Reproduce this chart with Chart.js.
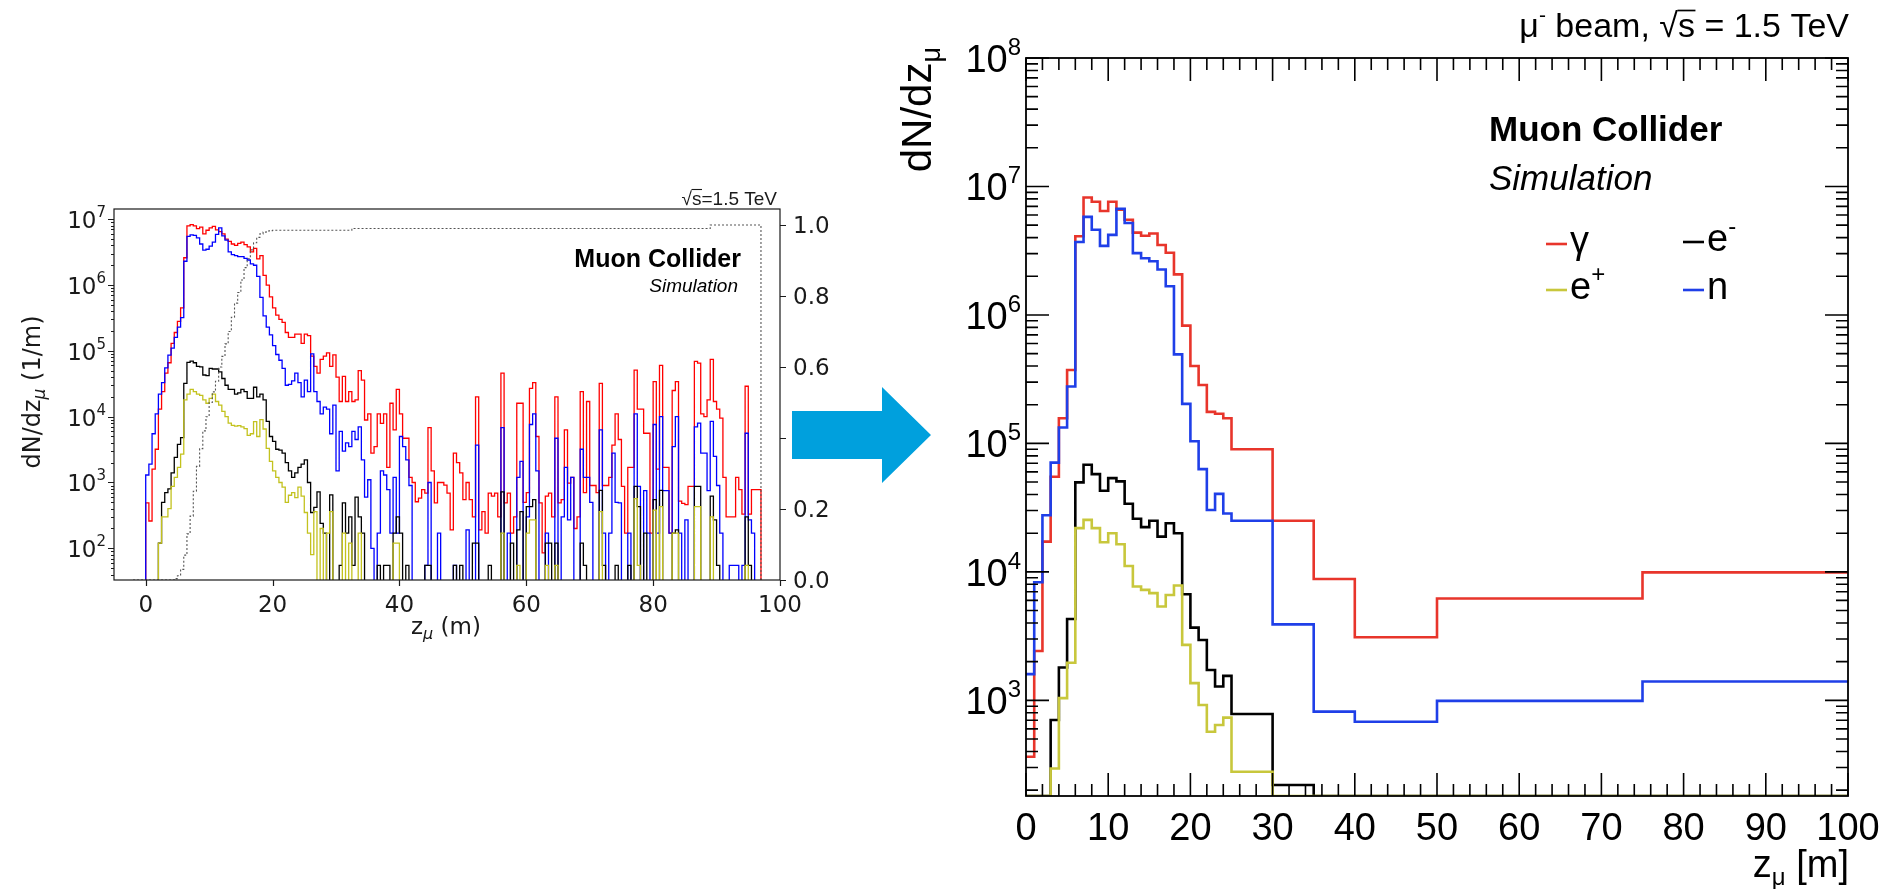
<!DOCTYPE html>
<html>
<head>
<meta charset="utf-8">
<title>Muon collider beam-induced background: dN/dz</title>
<script src="https://cdn.jsdelivr.net/npm/chart.js@4.4.1/dist/chart.umd.min.js"></script>
<style>
  html, body { margin: 0; padding: 0; background: #ffffff; }
  body { width: 1895px; height: 889px; position: relative; overflow: hidden; }
  canvas, svg { position: absolute; left: 0; top: 0; }
</style>
</head>
<body>
<canvas id="leftChart" width="1895" height="889"></canvas>
<svg width="1895" height="889" viewBox="0 0 1895 889">
  <polygon points="792,411 882,411 882,387 931,435 882,483 882,459 792,459" fill="#00a0dd"/>
</svg>
<canvas id="rightChart" width="1895" height="889"></canvas>
<script>
// ---------------------------------------------------------------------------
// Fine-binned histograms (0.5 m bins starting at z = 0 m), dN/dz in 1/m
// ---------------------------------------------------------------------------
const FINE_BIN_START = 0;
const FINE_BIN_WIDTH = 0.5;

const finePhoton = [
  490, 260, 1600, 3200, 1.3e4, 2.4e4, 4.6e4, 6.6e4, 1.3e5, 1.9e5,
  2.8e5, 4.5e5, 2.6e6, 7.9e6, 8.3e6, 7.9e6, 7.2e6, 7.6e6, 6.0e6, 6.8e6,
  7.4e6, 7.8e6, 6.9e6, 6.5e6, 6.0e6, 5.0e6, 4.6e6, 4.2e6, 4.0e6, 4.3e6,
  4.5e6, 4.1e6, 3.8e6, 3.2e6, 3.6e6, 2.5e6, 2.8e6, 1.4e6, 1.0e6, 6.6e5,
  4.5e5, 3.5e5, 3.0e5, 2.7e5, 1.9e5, 1.6e5, 1.6e5, 1.8e5, 1.8e5, 1.3e5,
  1.8e5, 1.7e5, 8.3e4, 5.8e4, 4.6e4, 7.4e4, 8.3e4, 9.3e4, 5.8e4, 8.7e4,
  4.0e4, 1.7e4, 4.1e4, 1.7e4, 2.4e4, 1.7e4, 1.8e4, 5.0e4, 3.6e4, 8.9e3,
  1.1e4, 2.8e3, 3.5e3, 1.1e4, 7.9e3, 1.1e4, 1.7e3, 1.6e4, 6.3e3, 2.6e4,
  1.1e4, 4.7e3, 4.7e3, 1.2e3, 1.0e3, 510, 580, 780, 690, 6.8e3,
  1.5e3, 490, 1.0e3, 1.0e3, 910, 690, 190, 2.8e3, 2.0e3, 1.4e3,
  550, 1.0e3, 550, 300, 2.0e4, 190, 360, 170, 690, 620,
  690, 300, 4.6e4, 490, 690, 170, 300, 1.6e4, 1.6e4, 500,
  700, 2.7e4, 3.3e4, 5.0e3, 490, 85, 620, 690, 300, 2.0e4,
  490, 550, 6.3e3, 980, 1.2e3, 200, 300, 2.4e4, 700, 1.7e4,
  900, 900, 700, 3.2e4, 900, 900, 1.2e3, 3.7e3, 1.1e4, 4.5e3,
  870, 170, 1.7e3, 1.7e3, 5.1e4, 1.3e4, 1.3e4, 5.6e3, 5.6e3, 170,
  3.4e4, 1.6e3, 6.0e4, 1.7e3, 1.7e3, 170, 2.5e4, 3.4e4, 520, 480,
  460, 870, 870, 6.9e4, 6.5e4, 1.1e4, 1.0e4, 1.8e4, 7.4e4, 1.7e4,
  1.3e4, 9.5e3, 1.2e3, 300, 300, 300, 1.2e3, 780, 330, 2.9e4,
  330, 780, 780, 780
];

const fineNeutron = [
  1.3e3, 1.9e3, 5.5e3, 1.1e4, 2.2e4, 3.3e4, 5.5e4, 8.6e4, 1.1e5, 1.6e5,
  2.3e5, 3.2e5, 2.3e6, 5.5e6, 5.8e6, 5.7e6, 5.2e6, 4.2e6, 3.4e6, 3.5e6,
  3.9e6, 4.5e6, 5.9e6, 7.4e6, 5.6e6, 4.8e6, 3.2e6, 2.9e6, 2.8e6, 2.7e6,
  2.7e6, 2.55e6, 2.4e6, 2.1e6, 2.0e6, 1.35e6, 6.5e5, 3.4e5, 2.3e5, 1.75e5,
  1.2e5, 8.8e4, 7.2e4, 5.4e4, 3.0e4, 3.1e4, 3.5e4, 4.6e4, 3.3e4, 2.0e4,
  3.6e4, 2.4e4, 9.0e4, 2.4e4, 1.7e4, 1.1e4, 1.4e4, 1.3e4, 5.5e3, 1.5e4,
  1.5e3, 6.0e3, 3.0e3, 4.0e3, 3.5e3, 6.0e3, 4.5e3, 7.0e3, 2.2e3, 600,
  1.1e3, 100, 0, 170, 1.5e3, 1.3e3, 780, 170, 1.2e3, 170,
  5.0e3, 3.5e3, 2.2e3, 900, 0, 0, 0, 0, 55, 1.0e3,
  0, 0, 170, 0, 0, 0, 0, 55, 0, 0,
  0, 190, 0, 0, 3.7e3, 0, 0, 0, 0, 0,
  0, 0, 6.8e3, 0, 170, 0, 0, 1.2e3, 2.1e3, 0,
  300, 7.6e3, 1.1e4, 1.5e3, 0, 0, 170, 0, 0, 4.7e3,
  0, 300, 1.7e3, 270, 1.2e3, 0, 0, 3.2e3, 1.2e3, 1.2e3,
  500, 0, 0, 6.3e3, 170, 0, 170, 2.8e3, 500, 490,
  0, 0, 170, 0, 1.1e4, 870, 0, 750, 170, 0,
  7.6e3, 170, 1.0e4, 750, 750, 170, 3.5e3, 1.0e4, 170, 0,
  270, 0, 0, 7.0e3, 8.0e3, 2.8e3, 2.8e3, 750, 8.5e3, 2.5e3,
  900, 170, 0, 0, 55, 55, 55, 0, 55, 5.6e3,
  270, 170, 0, 0
];

const fineElectron = [
  0, 0, 0, 0, 120, 500, 700, 800, 1.4e3, 2.4e3,
  3.8e3, 4.8e3, 3.2e4, 6.7e4, 7.0e4, 6.6e4, 5.8e4, 5.7e4, 4.3e4, 4.2e4,
  5.4e4, 5.3e4, 5.3e4, 4.8e4, 3.8e4, 3.0e4, 2.6e4, 2.6e4, 2.2e4, 2.3e4,
  2.6e4, 2.4e4, 1.9e4, 1.9e4, 2.8e4, 2.0e4, 2.2e4, 1.8e4, 8.5e3, 5.0e3,
  4.2e3, 3.2e3, 3.1e3, 2.8e3, 2.0e3, 1.5e3, 1.2e3, 1.4e3, 1.7e3, 1.9e3,
  2.2e3, 1.0e3, 350, 420, 720, 240, 170, 0, 650, 0,
  0, 55, 490, 170, 300, 55, 600, 300, 170, 0,
  0, 0, 0, 55, 0, 55, 55, 0, 170, 300,
  170, 0, 55, 0, 0, 0, 0, 0, 55, 55,
  0, 0, 0, 0, 0, 0, 0, 55, 0, 55,
  0, 0, 0, 120, 120, 0, 0, 0, 55, 0,
  0, 0, 720, 0, 0, 120, 0, 190, 360, 0,
  430, 430, 550, 0, 0, 0, 120, 120, 0, 120,
  0, 0, 0, 0, 0, 0, 0, 120, 55, 0,
  0, 0, 0, 760, 55, 0, 0, 0, 55, 0,
  0, 0, 55, 0, 870, 430, 0, 170, 0, 0,
  550, 0, 760, 0, 0, 0, 170, 190, 0, 0,
  0, 0, 0, 870, 870, 0, 0, 0, 620, 270,
  55, 0, 0, 0, 0, 0, 0, 0, 0, 300,
  55, 0, 0, 0
];

const finePositron = [
  0, 0, 0, 0, 120, 300, 300, 400, 870, 1.2e3,
  1.7e3, 2.7e3, 1.8e4, 2.2e4, 2.6e4, 2.4e4, 2.2e4, 2.1e4, 1.8e4, 1.6e4,
  1.9e4, 2.2e4, 1.7e4, 1.5e4, 1.2e4, 1.0e4, 8.0e3, 7.4e3, 7.2e3, 7.3e3,
  7.0e3, 6.6e3, 5.2e3, 5.5e3, 8.4e3, 5.0e3, 9.0e3, 6.5e3, 3.3e3, 2.1e3,
  1.5e3, 1.2e3, 1.0e3, 850, 500, 640, 700, 590, 850, 620,
  350, 170, 80, 360, 0, 200, 0, 170, 360, 0,
  0, 0, 170, 0, 120, 0, 0, 170, 0, 0,
  0, 0, 0, 0, 0, 0, 0, 0, 120, 120,
  0, 0, 0, 0, 0, 0, 0, 0, 0, 0,
  0, 0, 0, 0, 0, 0, 0, 0, 0, 0,
  0, 0, 0, 0, 0, 0, 0, 0, 0, 0,
  0, 0, 170, 0, 0, 0, 0, 55, 0, 0,
  170, 270, 270, 0, 0, 0, 55, 0, 0, 55,
  0, 0, 0, 0, 0, 0, 0, 0, 0, 0,
  0, 0, 0, 360, 0, 0, 0, 0, 0, 0,
  0, 0, 0, 0, 570, 55, 0, 0, 0, 0,
  380, 0, 430, 0, 0, 0, 170, 170, 0, 0,
  0, 0, 0, 430, 430, 0, 0, 0, 300, 0,
  0, 0, 0, 0, 0, 0, 0, 0, 0, 55,
  0, 0, 0, 0
];

// Cumulative fraction (right-hand axis), 0.5 m bins starting at z = -2 m
const CUM_BIN_START = -2;
const fineCumulative = [
  0, 0, 0, 0, 0, 0, 0, 0, 0, 0,
  0, 0, 0, 0.004, 0.012, 0.03, 0.07, 0.13, 0.18, 0.25,
  0.32, 0.37, 0.42, 0.46, 0.5, 0.53, 0.56, 0.6, 0.63, 0.665,
  0.7, 0.74, 0.78, 0.81, 0.845, 0.88, 0.905, 0.93, 0.95, 0.965,
  0.975, 0.98, 0.983, 0.984, 0.985, 0.985, 0.985, 0.985, 0.985, 0.985,
  0.985, 0.985, 0.985, 0.985, 0.985, 0.985, 0.985, 0.985, 0.985, 0.985,
  0.985, 0.985, 0.985, 0.985, 0.985, 0.985, 0.985, 0.985, 0.985, 0.99,
  0.99, 0.99, 0.99, 0.99, 0.99, 0.99, 0.99, 0.99, 0.99, 0.99,
  0.99, 0.99, 0.99, 0.99, 0.99, 0.99, 0.99, 0.99, 0.99, 0.99,
  0.99, 0.99, 0.99, 0.99, 0.99, 0.99, 0.99, 0.99, 0.99, 0.99,
  0.99, 0.99, 0.99, 0.99, 0.99, 0.99, 0.99, 0.99, 0.99, 0.99,
  0.99, 0.99, 0.99, 0.99, 0.99, 0.99, 0.99, 0.99, 0.99, 0.99,
  0.99, 0.99, 0.99, 0.99, 0.99, 0.99, 0.99, 0.99, 0.99, 0.99,
  0.99, 0.99, 0.99, 0.99, 0.99, 0.99, 0.99, 0.99, 0.99, 0.99,
  0.99, 0.99, 0.99, 0.99, 0.99, 0.99, 0.99, 0.99, 0.99, 0.99,
  0.99, 0.99, 0.99, 0.99, 0.99, 0.99, 0.99, 0.99, 0.99, 0.99,
  0.99, 0.99, 0.99, 0.99, 0.99, 0.99, 0.99, 0.99, 0.99, 0.99,
  0.99, 0.99, 0.99, 0.99, 0.99, 0.99, 0.99, 0.99, 0.99, 0.99,
  0.99, 0.99, 1, 1, 1, 1, 1, 1, 1, 1,
  1, 1, 1, 1, 1, 1, 1, 1
];

const fineXTicks = [0, 20, 40, 60, 80, 100];
const fineYTickExponents = [2, 3, 4, 5, 6, 7];
const fractionTicks = [0.0, 0.2, 0.4, 0.6, 0.8, 1.0];

// ---------------------------------------------------------------------------
// Coarse-binned histograms (variable bins), dN/dz
// ---------------------------------------------------------------------------
const coarseEdges = [0, 1, 2, 3, 4, 5, 6, 7, 8, 9, 10, 11, 12, 13, 14, 15, 16, 17, 18, 19,
  20, 21, 22, 23, 24, 25, 30, 35, 40, 50, 75, 100];

const coarsePhoton = [364, 2420, 17200, 55000, 157000, 373000, 4.1e6, 8.2e6, 7.6e6, 6.45e6,
  7.6e6, 6.6e6, 5.5e6, 4.37e6, 4.13e6, 4.3e6, 3.5e6, 3.05e6, 2.07e6, 8.25e5,
  4.0e5, 2.85e5, 1.76e5, 1.7e5, 1.57e5, 9.0e4, 2.5e4, 8.8e3, 3.1e3, 6.2e3, 9.9e3];
const coarseNeutron = [1600, 8300, 27600, 70800, 1.33e5, 2.77e5, 3.7e6, 5.8e6, 4.6e6, 3.45e6,
  4.2e6, 6.7e6, 5.2e6, 3.03e6, 2.76e6, 2.62e6, 2.26e6, 1.67e6, 4.93e5, 2.03e5,
  1.04e5, 6.3e4, 3.03e4, 4.05e4, 2.85e4, 2.5e4, 3.9e3, 816, 682, 990, 1400];
const coarseElectron = [0, 0, 0, 703, 1800, 4300, 4.97e4, 6.82e4, 5.77e4, 4.28e4,
  5.37e4, 5.06e4, 3.39e4, 2.59e4, 2.23e4, 2.5e4, 1.88e4, 2.39e4, 2.0e4, 6700,
  3680, 2950, 1720, 1280, 1550, 783, 219, 0, 0, 0, 0];
const coarsePositron = [0, 0, 0, 295, 1040, 1960, 21900, 25400, 21900, 17000,
  20000, 16400, 11100, 7700, 7240, 6830, 5370, 6610, 7830, 2700,
  1360, 920, 570, 643, 733, 278, 0, 0, 0, 0, 0];

const coarseXTicks = [0, 10, 20, 30, 40, 50, 60, 70, 80, 90, 100];
const coarseYTickExponents = [3, 4, 5, 6, 7, 8];

// ---------------------------------------------------------------------------
// Helpers
// ---------------------------------------------------------------------------
const FINE_Y_MIN = 33, FINE_Y_MAX = 1.43e7, FINE_FLOOR = 1;   // empty bins fall below the frame
const COARSE_Y_MIN = 180, COARSE_Y_MAX = 1e8;                 // empty bins sit on the frame

function fineEdge(start, i) { return start + i * FINE_BIN_WIDTH; }

// Step outline of a histogram in the style of a closed "step" histogram
function fineOutline(values, start, floor) {
  const pts = [{ x: fineEdge(start, 0), y: floor }];
  values.forEach((v, i) => pts.push({ x: fineEdge(start, i), y: v > 0 ? v : floor }));
  pts.push({ x: fineEdge(start, values.length), y: floor });
  return pts;
}

// Step outline with explicit bin edges, empty bins drawn at the axis minimum
function coarseOutline(edges, values) {
  const pts = values.map((v, i) => ({ x: edges[i], y: v > 0 ? v : COARSE_Y_MIN }));
  const last = values[values.length - 1];
  pts.push({ x: edges[values.length], y: last > 0 ? last : COARSE_Y_MIN });
  return pts;
}

// Text runs with sub/superscripts: parts = [[text, font, dy], ...]
function richText(ctx, x, y, parts, align) {
  let w = 0;
  for (const p of parts) { ctx.font = p[1]; w += ctx.measureText(p[0]).width; }
  let cx = align === 'right' ? x - w : (align === 'center' ? x - w / 2 : x);
  ctx.textAlign = 'left';
  for (const p of parts) {
    ctx.font = p[1];
    ctx.fillText(p[0], cx, y + (p[2] || 0));
    cx += ctx.measureText(p[0]).width;
  }
  return w;
}

// "√s" with the bar of the root sign running over the s
function rootS(ctx, x, y, font, barY, lw) {
  ctx.font = font;
  const wr = ctx.measureText('\u221A').width;
  ctx.fillText('\u221A', x, y);
  const ws = ctx.measureText('s').width;
  ctx.fillText('s', x + wr, y);
  ctx.beginPath();
  ctx.lineWidth = lw;
  ctx.moveTo(x + wr - 0.5, barY);
  ctx.lineTo(x + wr + ws + 0.5, barY);
  ctx.stroke();
  return wr + ws;
}

// ---------------------------------------------------------------------------
// Fine-binned panel (matplotlib look)
// ---------------------------------------------------------------------------
const FINE_FONT = '"DejaVu Sans", sans-serif';
const FT = '23px ' + FINE_FONT;
const fineFrame = {
  id: 'fineFrame',
  afterDatasetsDraw(chart) {
    const { ctx, chartArea: a, scales } = chart;
    const x = scales.x, y = scales.y, y2 = scales.y2;
    ctx.save();
    ctx.strokeStyle = '#1a1a1a';
    ctx.fillStyle = '#1a1a1a';
    ctx.lineWidth = 1.2;
    ctx.strokeRect(a.left, a.top, a.right - a.left, a.bottom - a.top);

    ctx.beginPath();
    fineXTicks.forEach(v => {
      const px = Math.round(x.getPixelForValue(v)) + 0.5;
      ctx.moveTo(px, a.bottom); ctx.lineTo(px, a.bottom + 6);
    });
    fineYTickExponents.forEach(e => {
      const py = Math.round(y.getPixelForValue(Math.pow(10, e))) + 0.5;
      ctx.moveTo(a.left, py); ctx.lineTo(a.left - 6, py);
    });
    for (let e = 1; e <= 7; e++) {
      for (let m = 2; m <= 9; m++) {
        const v = m * Math.pow(10, e);
        if (v < FINE_Y_MIN || v > FINE_Y_MAX) continue;
        const py = Math.round(y.getPixelForValue(v)) + 0.5;
        ctx.moveTo(a.left, py); ctx.lineTo(a.left - 3, py);
      }
    }
    fractionTicks.forEach(v => {
      const py = Math.round(y2.getPixelForValue(v)) + 0.5;
      ctx.moveTo(a.right, py); ctx.lineTo(a.right + 6, py);
    });
    ctx.stroke();

    ctx.textBaseline = 'alphabetic';
    ctx.font = FT;
    ctx.textAlign = 'center';
    fineXTicks.forEach(v => ctx.fillText(String(v), x.getPixelForValue(v), 612));

    fineYTickExponents.forEach(e => {
      const py = y.getPixelForValue(Math.pow(10, e));
      richText(ctx, 106, py + 9, [['10', FT, 0], [String(e), '15px ' + FINE_FONT, -11]], 'right');
    });

    ctx.textAlign = 'left';
    ctx.font = FT;
    fractionTicks.forEach(v => ctx.fillText(v.toFixed(1), a.right + 13, y2.getPixelForValue(v) + 8));

    // axis titles
    richText(ctx, 446, 634, [['z', FT, 0], ['\u03BC', 'italic 16px ' + FINE_FONT, 5], [' (m)', FT, 0]], 'center');
    ctx.save();
    ctx.translate(40, 392);
    ctx.rotate(-Math.PI / 2);
    richText(ctx, 0, 0, [['dN/dz', '24px ' + FINE_FONT, 0], ['\u03BC', 'italic 17px ' + FINE_FONT, 5], [' (1/m)', '24px ' + FINE_FONT, 0]], 'center');
    ctx.restore();

    // energy label above the frame
    const hf = '19px "Liberation Sans", Arial, sans-serif';
    ctx.font = hf;
    const tail = '=1.5 TeV';
    const wt = ctx.measureText(tail).width;
    const wrs = ctx.measureText('\u221As').width;
    const x0 = 777 - wt - wrs;
    ctx.lineWidth = 1;
    rootS(ctx, x0, 205, hf, 189.5, 1.1);
    ctx.font = hf;
    ctx.fillText(tail, x0 + wrs, 205);

    // experiment label
    ctx.textAlign = 'right';
    ctx.font = 'bold 25px "Liberation Sans", Arial, sans-serif';
    ctx.fillStyle = '#000';
    ctx.fillText('Muon Collider', 741, 267);
    ctx.font = 'italic 19px "Liberation Sans", Arial, sans-serif';
    ctx.fillText('Simulation', 738, 292);
    ctx.restore();
  }
};

const FINE_LW = 1.3;
new Chart(document.getElementById('leftChart'), {
  type: 'line',
  data: {
    datasets: [
      { label: 'e+', data: fineOutline(finePositron, FINE_BIN_START, FINE_FLOOR), borderColor: '#c3c21e', order: 1 },
      { label: 'e-', data: fineOutline(fineElectron, FINE_BIN_START, FINE_FLOOR), borderColor: '#000000', order: 2 },
      { label: 'n', data: fineOutline(fineNeutron, FINE_BIN_START, FINE_FLOOR), borderColor: '#0000ff', order: 3 },
      { label: 'gamma', data: fineOutline(finePhoton, FINE_BIN_START, FINE_FLOOR), borderColor: '#ff0000', order: 4 },
      { label: 'cumulative', data: fineOutline(fineCumulative, CUM_BIN_START, 0), yAxisID: 'y2',
        borderColor: '#555555', borderDash: [2, 2], borderWidth: 1.1, order: 0 }
    ]
  },
  options: {
    responsive: false,
    animation: false,
    events: [],
    layout: { padding: { left: 114, top: 209, right: 1895 - 780, bottom: 889 - 580 } },
    datasets: { line: { stepped: 'before', borderWidth: FINE_LW, pointRadius: 0, fill: false, tension: 0 } },
    plugins: { legend: { display: false }, tooltip: { enabled: false } },
    scales: {
      x: { type: 'linear', min: -5, max: 100, display: false },
      y: { type: 'logarithmic', min: FINE_Y_MIN, max: FINE_Y_MAX, display: false },
      y2: { type: 'linear', min: 0, max: 1.045, display: false }
    }
  },
  plugins: [fineFrame]
});

// ---------------------------------------------------------------------------
// Coarse-binned panel (ROOT look)
// ---------------------------------------------------------------------------
const CF = '"Liberation Sans", Arial, Helvetica, sans-serif';
const coarseFrame = {
  id: 'coarseFrame',
  afterDatasetsDraw(chart) {
    const { ctx, chartArea: a, scales } = chart;
    const x = scales.x, y = scales.y;
    const MAJ = 23, MIN = 12;
    ctx.save();
    ctx.strokeStyle = '#000';
    ctx.fillStyle = '#000';
    ctx.lineWidth = 1.6;
    ctx.beginPath();
    // x ticks (bottom and top, pointing inwards)
    for (let i = 0; i <= 50; i++) {
      const v = i * 2;
      const len = (v % 10 === 0) ? MAJ : MIN;
      const px = x.getPixelForValue(v);
      ctx.moveTo(px, a.bottom); ctx.lineTo(px, a.bottom - len);
      ctx.moveTo(px, a.top); ctx.lineTo(px, a.top + len);
    }
    // log y ticks (left and right, pointing inwards)
    for (let e = 2; e <= 7; e++) {
      for (let m = 1; m <= 9; m++) {
        const v = m * Math.pow(10, e);
        if (v < COARSE_Y_MIN || v > COARSE_Y_MAX) continue;
        const len = m === 1 ? MAJ : MIN;
        const py = y.getPixelForValue(v);
        ctx.moveTo(a.left, py); ctx.lineTo(a.left + len, py);
        ctx.moveTo(a.right, py); ctx.lineTo(a.right - len, py);
      }
    }
    const pTop = y.getPixelForValue(COARSE_Y_MAX);
    ctx.moveTo(a.left, pTop); ctx.lineTo(a.left + MAJ, pTop);
    ctx.moveTo(a.right, pTop); ctx.lineTo(a.right - MAJ, pTop);
    ctx.stroke();
    ctx.lineWidth = 1.8;
    ctx.strokeRect(a.left, a.top, a.right - a.left, a.bottom - a.top);

    // tick labels
    ctx.textBaseline = 'alphabetic';
    ctx.font = '38px ' + CF;
    ctx.textAlign = 'center';
    coarseXTicks.forEach(v => ctx.fillText(String(v), x.getPixelForValue(v), 840));
    coarseYTickExponents.forEach(e => {
      const py = y.getPixelForValue(Math.pow(10, e));
      richText(ctx, 1021, py + 14, [['10', '38px ' + CF, 0], [String(e), '24px ' + CF, -17]], 'right');
    });

    // axis titles
    richText(ctx, 1849, 877, [['z', '38px ' + CF, 0], ['\u03BC', '24px ' + CF, 8], [' [m]', '38px ' + CF, 0]], 'right');
    ctx.save();
    ctx.translate(931, 47);
    ctx.rotate(-Math.PI / 2);
    richText(ctx, 0, 0, [['dN/dz', '42px ' + CF, 0], ['\u03BC', '27px ' + CF, 9]], 'right');
    ctx.restore();

    // beam label
    const hf = '34px ' + CF;
    const sf = '21px ' + CF;
    ctx.font = hf;
    const tail = ' = 1.5 TeV';
    const head = ' beam, ';
    const wTail = ctx.measureText(tail).width;
    const wHead = ctx.measureText(head).width;
    const wRoot = ctx.measureText('\u221As').width;
    const wMu = ctx.measureText('\u03BC').width;
    ctx.font = sf; const wSup = ctx.measureText('-').width;
    let hx = 1849 - wTail - wRoot - wHead - wSup - wMu;
    ctx.font = hf; ctx.fillText('\u03BC', hx, 37); hx += wMu;
    ctx.font = sf; ctx.fillText('-', hx, 22); hx += wSup;
    ctx.font = hf; ctx.fillText(head, hx, 37); hx += wHead;
    rootS(ctx, hx, 37, hf, 10.5, 1.7); hx += wRoot;
    ctx.font = hf; ctx.fillText(tail, hx, 37);

    // experiment label
    ctx.font = 'bold 35px ' + CF;
    ctx.fillText('Muon Collider', 1489, 141);
    ctx.font = 'italic 35px ' + CF;
    ctx.fillText('Simulation', 1489, 190);

    // legend
    const legend = [
      { color: '#e8352b', x: 1546, y: 244, parts: [['\u03B3', '38px ' + CF, 0]] },
      { color: '#000000', x: 1683, y: 242, parts: [['e', '38px ' + CF, 0], ['-', '24px ' + CF, -17]] },
      { color: '#c8c73c', x: 1546, y: 290, parts: [['e', '38px ' + CF, 0], ['+', '24px ' + CF, -17]] },
      { color: '#1f3fe8', x: 1683, y: 290, parts: [['n', '38px ' + CF, 0]] }
    ];
    legend.forEach(item => {
      ctx.strokeStyle = item.color;
      ctx.lineWidth = 2.6;
      ctx.beginPath(); ctx.moveTo(item.x, item.y); ctx.lineTo(item.x + 21, item.y); ctx.stroke();
      ctx.fillStyle = '#000';
      richText(ctx, item.x + 24, item.y + 9, item.parts, 'left');
    });
    ctx.restore();
  }
};

const COARSE_LW = 2.6;
new Chart(document.getElementById('rightChart'), {
  type: 'line',
  data: {
    datasets: [
      { label: 'n', data: coarseOutline(coarseEdges, coarseNeutron), borderColor: '#1f3fe8', order: 0 },
      { label: 'e+', data: coarseOutline(coarseEdges, coarsePositron), borderColor: '#c8c73c', order: 1 },
      { label: 'e-', data: coarseOutline(coarseEdges, coarseElectron), borderColor: '#000000', order: 2 },
      { label: 'gamma', data: coarseOutline(coarseEdges, coarsePhoton), borderColor: '#e8352b', order: 3 }
    ]
  },
  options: {
    responsive: false,
    animation: false,
    events: [],
    layout: { padding: { left: 1026, top: 58, right: 1895 - 1848, bottom: 889 - 796 } },
    datasets: { line: { stepped: 'before', borderWidth: COARSE_LW, pointRadius: 0, fill: false, tension: 0 } },
    plugins: { legend: { display: false }, tooltip: { enabled: false } },
    scales: {
      x: { type: 'linear', min: 0, max: 100, display: false },
      y: { type: 'logarithmic', min: COARSE_Y_MIN, max: COARSE_Y_MAX, display: false }
    }
  },
  plugins: [coarseFrame]
});
</script>
</body>
</html>
